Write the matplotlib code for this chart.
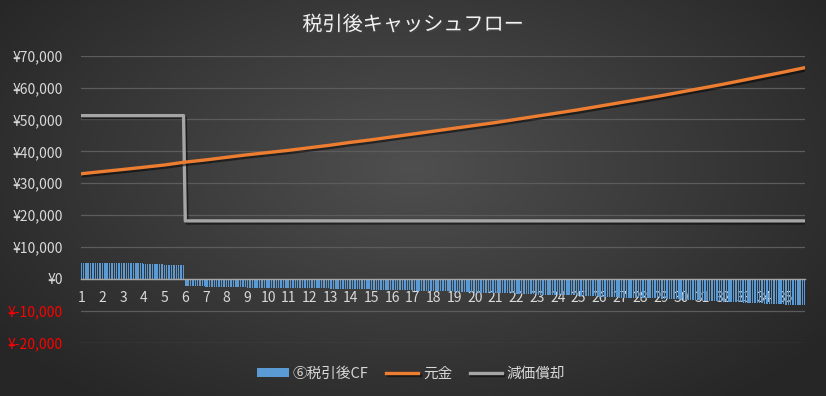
import numpy as np
import matplotlib
matplotlib.use("Agg")
import matplotlib.pyplot as plt
import matplotlib.patheffects as pe
from matplotlib.ticker import FuncFormatter

plt.rcParams['font.family'] = ['Noto Sans CJK JP', 'DejaVu Sans']

# years 1..35, bars are monthly (12 per year)
years = list(range(1, 36))

# after-tax cash flow per month, value read for each year
cf_year = [5100, 5000, 5000, 4600, 4400,
           -2300, -2400, -2500, -2700, -2800, -2900, -3000, -3100, -3200, -3400,
           -3500, -3700, -3900, -4100, -4300, -4500, -4700, -4900, -5100, -5400,
           -5600, -5900, -6100, -6400, -6700, -7000, -7300, -7600, -7900, -8200]

# principal at each year boundary (start of year 1 .. end of year 35)
principal = [33000, 33650, 34300, 35000, 35700, 36600, 37300, 38100, 38900, 39600,
             40300, 41100, 41900, 42800, 43600, 44500, 45400, 46300, 47200, 48100,
             49000, 50000, 51000, 52000, 53000, 54100, 55200, 56300, 57400, 58600,
             59800, 61000, 62300, 63600, 64900, 66200]

# depreciation per year
depreciation = [51200] * 5 + [18200] * 30

blue = '#5B9BD5'
orange = '#ED7D31'
gray = '#A5A5A5'

W, H = 826, 396
fig = plt.figure(figsize=(W / 100, H / 100), dpi=100)

# radial gradient background like the excel style
bg = fig.add_axes([0, 0, 1, 1])
yy, xx = np.mgrid[0:H, 0:W]
r = np.sqrt(((xx - W * 0.5) / (W * 0.62)) ** 2 + ((yy - H * 0.42) / (H * 0.75)) ** 2)
r = np.clip(r, 0, 1)
shade = 0.31 - 0.16 * r
bg.imshow(np.dstack([shade, shade, shade]), extent=[0, 1, 0, 1], aspect='auto')
bg.axis('off')

ax = fig.add_axes([81 / W, 1 - 342.7 / H, (805 - 81) / W, (342.7 - 55.7) / H])
ax.patch.set_alpha(0)

n = len(years) * 12
months = np.arange(n)
cf_month = np.repeat(cf_year, 12)
dep_month = np.repeat(depreciation, 12)

# principal points sit on year boundaries, ends pulled to first/last month centre
px = np.arange(len(principal)) * 12.0
px[0] = 0.5
px[-1] = n - 0.5

ax.bar(months + 0.5, cf_month, width=0.62, color=blue, zorder=2, label='⑥税引後CF')
shadow = [pe.SimpleLineShadow(offset=(1.2, -1.5), alpha=0.5, shadow_color='black'), pe.Normal()]
ax.plot(px, principal, color=orange, lw=2.4, zorder=4, label='元金', path_effects=shadow)
ax.plot(months + 0.5, dep_month, color=gray, lw=2.4, zorder=3, label='減価償却', path_effects=shadow)

ax.set_xlim(0, n)
ax.set_ylim(-20000, 70000)
ax.set_yticks(range(-20000, 70001, 10000))
ax.yaxis.set_major_formatter(FuncFormatter(lambda v, p: '¥{:,.0f}'.format(v)))
ax.grid(axis='y', color='#5c5c5c', lw=0.9, zorder=0)
ax.set_axisbelow(True)
ax.tick_params(axis='y', length=0, pad=13, labelsize=10, labelcolor='#d9d9d9')
for lab, v in zip(ax.get_yticklabels(), ax.get_yticks()):
    if v < 0:
        lab.set_color('#ff0000')

ax.set_xticks([(y - 1) * 12 + 0.5 for y in years])
ax.set_xticklabels([str(y) for y in years])
ax.tick_params(axis='x', length=0, pad=9, labelsize=10, labelcolor='#d9d9d9')
for s in ['top', 'right', 'left']:
    ax.spines[s].set_visible(False)
ax.spines['bottom'].set_position(('data', 0))
ax.spines['bottom'].set_color('#a6a6a6')
ax.spines['bottom'].set_linewidth(1.0)
ax.spines['bottom'].set_zorder(3)

fig.text(0.5, 1 - 25 / H, '税引後キャッシュフロー', ha='center', va='center',
         fontsize=14.5, color='#f2f2f2',
         path_effects=[pe.withSimplePatchShadow(offset=(1, -1), alpha=0.6)])

handles, labels = ax.get_legend_handles_labels()
order = [labels.index(l) for l in ['⑥税引後CF', '元金', '減価償却']]
leg = fig.legend([handles[i] for i in order], [labels[i] for i in order],
                 loc='center', bbox_to_anchor=(0.497, 1 - 374 / H), ncol=3,
                 frameon=False, fontsize=10.5, labelcolor='#d9d9d9',
                 handlelength=2.2, handleheight=0.6, columnspacing=1.2, handletextpad=0.3)

fig.savefig('out.png', dpi=100)
